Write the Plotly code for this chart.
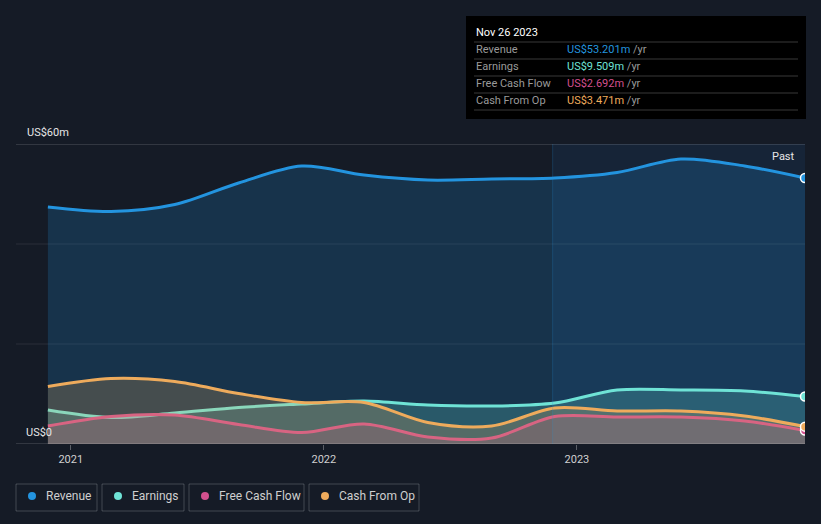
import plotly.graph_objects as go

dates = ["2020-11-29", "2021-02-28", "2021-05-31", "2021-08-31", "2021-11-30",
         "2022-02-28", "2022-05-31", "2022-08-31", "2022-11-30", "2023-02-28",
         "2023-05-31", "2023-08-31", "2023-11-26"]
revenue = [47.4, 46.5, 47.9, 52.2, 55.6, 53.8, 52.8, 53.0, 53.2, 54.3, 57.0, 55.6, 53.201]
earnings = [6.8, 5.3, 6.2, 7.3, 8.0, 8.6, 7.8, 7.6, 8.2, 10.8, 10.8, 10.6, 9.509]
fcf = [3.6, 5.5, 5.8, 3.9, 2.3, 4.0, 1.4, 1.2, 5.5, 5.4, 5.4, 4.6, 2.692]
cfo = [11.5, 13.1, 12.5, 10.1, 8.3, 8.3, 4.3, 3.6, 7.2, 6.6, 6.6, 5.6, 3.471]

series = [
    ("Revenue", revenue, "#2394df", "rgba(35,148,223,0.20)"),
    ("Earnings", earnings, "#6fe3d6", "rgba(111,227,214,0.22)"),
    ("Free Cash Flow", fcf, "#d2508e", "rgba(210,80,142,0.22)"),
    ("Cash From Op", cfo, "#eeab5c", "rgba(238,171,92,0.22)"),
]
tooltip_date = "Nov 26 2023"
x_ticks = ["2021-01-01", "2022-01-01", "2023-01-01"]
x_tick_labels = ["2021", "2022", "2023"]

W, H = 821, 524
L, R, T, B = 16, 16, 144, 80
PW, PH = W - L - R, H - T - B


def px(x):
    return (x - L) / PW


def py(y):
    return (H - B - y) / PH


BG = "#151b26"
fig = go.Figure()
for name, vals, col, fill in series:
    fig.add_trace(go.Scatter(
        x=dates, y=vals, name=name, mode="lines",
        line=dict(color=col, width=3, shape="spline", smoothing=0.9),
        fill="tozeroy", fillcolor=fill, hoverinfo="skip", showlegend=False))
for name, vals, col, fill in series:
    fig.add_trace(go.Scatter(
        x=[dates[-1]], y=[vals[-1]], mode="markers",
        marker=dict(color=col, size=9, line=dict(color="white", width=1.5)),
        hoverinfo="skip", showlegend=False))

shapes = []
annotations = []
# highlighted "past" region
shapes.append(dict(type="rect", xref="x", yref="paper", x0="2022-11-27", x1=dates[-1],
                   y0=0, y1=1, fillcolor="rgba(30,110,180,0.12)", line=dict(width=0), layer="below"))
shapes.append(dict(type="line", xref="x", yref="paper", x0="2022-11-27", x1="2022-11-27",
                   y0=0, y1=1, line=dict(color="rgba(35,148,223,0.22)", width=1)))
# grid lines
for val, col in [(60, "rgba(255,255,255,0.25)"), (40, "rgba(255,255,255,0.09)"),
                 (20, "rgba(255,255,255,0.09)"), (0, "rgba(255,255,255,0.25)")]:
    shapes.append(dict(type="line", xref="paper", yref="y", x0=0, x1=1, y0=val, y1=val,
                       line=dict(color=col, width=1), layer="above" if val in (0, 60) else "below"))

annotations.append(dict(text="US$60m", x=px(25), y=py(132), xref="paper", yref="paper",
                        xanchor="left", yanchor="middle", showarrow=False,
                        font=dict(size=11, color="#e6e6e6")))
annotations.append(dict(text="US$0", x=px(24), y=py(432), xref="paper", yref="paper",
                        xanchor="left", yanchor="middle", showarrow=False,
                        font=dict(size=11, color="#e6e6e6")))
annotations.append(dict(text="Past", x=px(797), y=py(156), xref="paper", yref="paper",
                        xanchor="right", yanchor="middle", showarrow=False,
                        font=dict(size=11, color="#e6e6e6")))

# tooltip box
shapes.append(dict(type="rect", xref="paper", yref="paper", x0=px(466), x1=px(806),
                   y0=py(119), y1=py(16), fillcolor="#000000", line=dict(width=0)))
annotations.append(dict(text=tooltip_date, x=px(474), y=py(32), xref="paper", yref="paper",
                        xanchor="left", yanchor="middle", showarrow=False,
                        font=dict(size=11, color="#ffffff")))
for i, yy in enumerate([42, 59, 76, 93, 110]):
    shapes.append(dict(type="line", xref="paper", yref="paper", x0=px(474), x1=px(798),
                       y0=py(yy), y1=py(yy), line=dict(color="rgba(255,255,255,0.22)", width=1)))
for i, (name, vals, col, fill) in enumerate(series):
    yy = 49 + i * 17.3
    annotations.append(dict(text=name, x=px(474), y=py(yy), xref="paper", yref="paper",
                            xanchor="left", yanchor="middle", showarrow=False,
                            font=dict(size=11, color="#9a9a9a")))
    annotations.append(dict(text=f"<span style='color:{col}'>US${vals[-1]:.3f}m</span> /yr",
                            x=px(565), y=py(yy), xref="paper", yref="paper",
                            xanchor="left", yanchor="middle", showarrow=False,
                            font=dict(size=11, color="#9a9a9a")))

# legend boxes
boxes = [(16, 97), (102, 184), (189, 304), (309, 419)]
for (x0, x1), (name, vals, col, fill) in zip(boxes, series):
    shapes.append(dict(type="rect", xref="paper", yref="paper", x0=px(x0), x1=px(x1),
                       y0=py(511), y1=py(484), fillcolor="rgba(0,0,0,0)",
                       line=dict(color="rgba(255,255,255,0.2)", width=1)))
    shapes.append(dict(type="circle", xref="paper", yref="paper", x0=px(x0 + 12), x1=px(x0 + 20),
                       y0=py(500), y1=py(492), fillcolor=col, line=dict(width=0)))
    annotations.append(dict(text=name, x=px(x0 + 28), y=py(496), xref="paper", yref="paper",
                            xanchor="left", yanchor="middle", showarrow=False,
                            font=dict(size=12, color="#cfcfcf")))

fig.update_layout(
    width=W, height=H, margin=dict(l=L, r=R, t=T, b=B),
    paper_bgcolor=BG, plot_bgcolor=BG,
    font=dict(family="Roboto, sans-serif"),
    shapes=shapes, annotations=annotations, showlegend=False,
    xaxis=dict(range=["2020-10-14", dates[-1]], showgrid=False, zeroline=False,
               tickvals=x_ticks, ticktext=x_tick_labels, ticks="outside", ticklen=5,
               tickcolor="rgba(255,255,255,0.3)", tickfont=dict(size=11, color="#d0d0d0"),
               showline=False, fixedrange=True),
    yaxis=dict(range=[0, 60], showgrid=False, zeroline=False, showticklabels=False,
               fixedrange=True),
)
fig.write_html("out.html", config={"displayModeBar": False, "staticPlot": True},
               post_script="document.body.style.margin='0';document.body.style.padding='0';"
                           "document.body.style.background='#151b26';"
                           "document.body.style.overflow='hidden';")
